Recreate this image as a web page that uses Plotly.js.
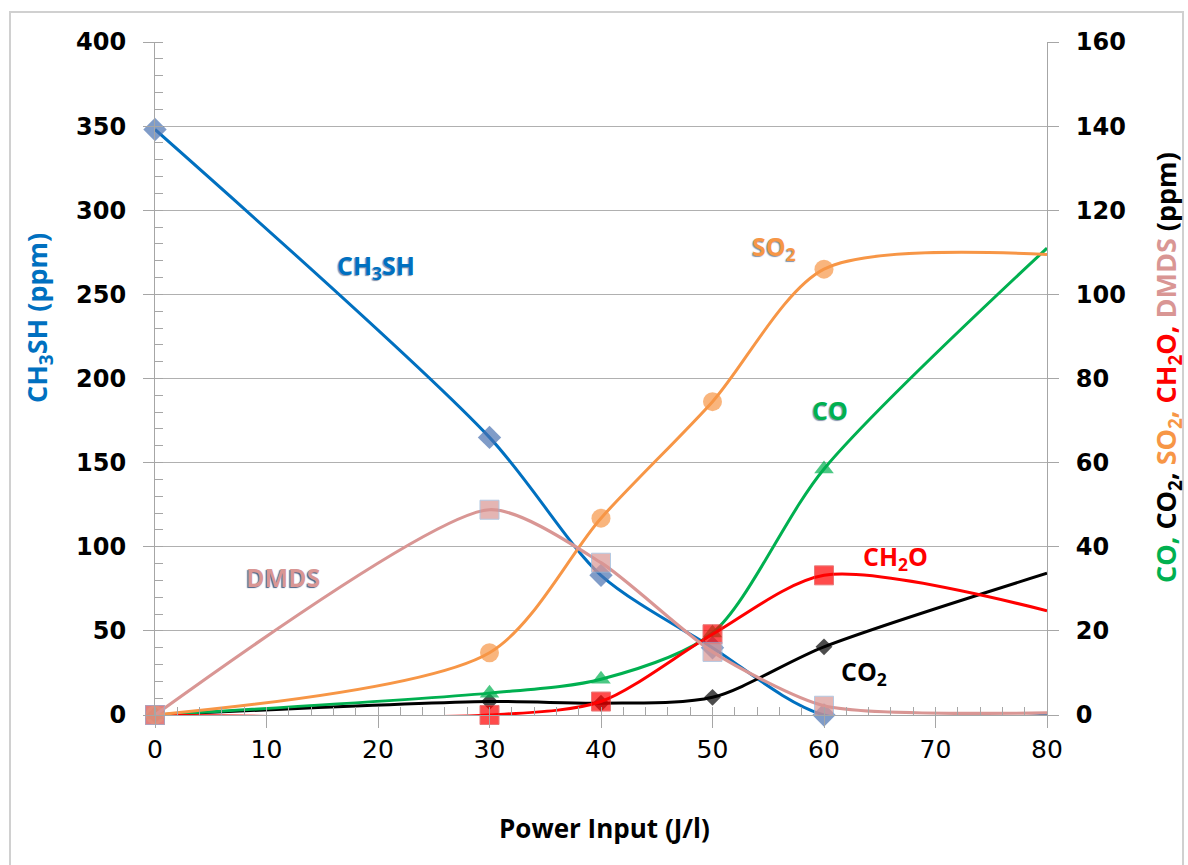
<!DOCTYPE html>
<html>
<head>
<meta charset="utf-8">
<script src="https://cdn.plot.ly/plotly-3.0.1.min.js"></script>
<style>
html,body{margin:0;padding:0;background:#fff;}
#chart{width:1188px;height:865px;}
</style>
</head>
<body>
<div id="chart"></div>
<script>
// Power input (J/l)
const powerInput = [0, 30, 40, 50, 60, 80];
// Left axis (ppm)
const ch3sh = [348, 165, 83, 40, 0, 0];
// Right axis (ppm)
const so2  = [0, 14.8, 46.8, 74.5, 106, 109.5];
const co   = [0, 5.2, 8.5, 19.5, 58.5, 111];
const co2  = [0, 3.2, 2.8, 4.2, 16.2, 33.7];
const ch2o = [0, 0, 3.2, 19.2, 33.2, 24.8];
const dmds = [0, 48.8, 36.2, 15.0, 2.2, 0.5];

const xTicks = [0, 10, 20, 30, 40, 50, 60, 70, 80];

function msize(s){ return powerInput.map(v => v === 80 ? 0 : s); }

function tr(name, y, yaxis, color, symbol, size, mcolor, mline, width, smooth){
  return {
    x: powerInput, y: y, yaxis: yaxis, name: name, type: 'scatter', mode: 'lines+markers',
    line: {color: color, width: width || 3, shape: 'spline', smoothing: smooth || 0.8},
    marker: {symbol: symbol, size: msize(size), color: mcolor || color,
             line: mline || {width: 0}},
    cliponaxis: false, showlegend: false, hoverinfo: 'x+y'
  };
}

const traces = [
  tr('CH3SH', ch3sh, 'y', '#0070c0', 'diamond', 18, '#4a72b0'),
  tr('CO2', co2, 'y2', '#000000', 'diamond', 13),
  tr('CO', co, 'y2', '#00b050', 'triangle-up', 17),
  tr('CH2O', ch2o, 'y2', '#ff0000', 'square', 19, '#ff0000', {width: 1, color: '#e04040'}),
  tr('SO2', so2, 'y2', '#f79646', 'circle', 19),
  tr('DMDS', dmds, 'y2', '#d99694', 'square', 19, '#d99694', {width: 1, color: '#95b3d7'}, 3.2, 0.65)
];

const W = 892, H = 673, L = 155, T = 42;
function px(x){ return (x - L) / W; }
function py(y){ return (T + H - y) / H; }

const FONT = '"Open Sans", "Noto Sans", sans-serif';
const lab = (text, x, y, color, size, shadow) => ({
  text: '<b>' + text + '</b>', xref: 'paper', yref: 'paper', x: px(x), y: py(y),
  xanchor: 'center', yanchor: 'middle', showarrow: false,
  font: {family: FONT, size: size || 25, color: color, shadow: shadow || 'none'}
});
const SH = '-1px 1px 1px rgba(31,56,100,0.55)';

const annotations = [
  lab('CH<sub>3</sub>SH', 376, 266, '#0070c0', 25, SH),
  lab('SO<sub>2</sub>', 774, 247, '#f79646', 25, SH),
  lab('CO', 830, 410, '#00b050', 25, SH),
  lab('CH<sub>2</sub>O', 895, 557, '#ff0000', 25),
  lab('CO<sub>2</sub>', 864, 672, '#000000', 25),
  lab('DMDS', 283, 577, '#d99694', 25, '-1px 1px 1px rgba(31,56,100,0.8)'),
  Object.assign(lab('CH<sub>3</sub>SH (ppm)', 38, 318, '#0070c0', 27), {textangle: -90}),
  Object.assign(lab('<span style="color:#00b050">CO,</span> CO<sub>2</sub>, <span style="color:#f79646">SO<sub>2</sub>,</span> <span style="color:#ff0000">CH<sub>2</sub>O,</span> <span style="color:#d99694">DMDS</span> (ppm)', 1167, 368, '#000000', 27), {textangle: -90}),
  lab('Power Input (J/l)', 604, 828, '#000000', 26)
];

const axisGray = '#a6a6a6';

const layout = {
  width: 1188, height: 865,
  margin: {l: L, r: 1188 - L - W, t: T, b: 865 - T - H, pad: 0},
  paper_bgcolor: '#ffffff', plot_bgcolor: '#ffffff',
  showlegend: false,
  xaxis: {
    range: [0, 80], tickvals: xTicks, ticktext: xTicks.map(String),
    ticks: 'outside', ticklen: 12, tickcolor: axisGray, tickwidth: 1,
    showline: true, linecolor: axisGray, linewidth: 1,
    showgrid: false, zeroline: false,
    minor: {dtick: 2, ticks: 'inside', ticklen: 8, tickcolor: axisGray, showgrid: false},
    tickfont: {family: '"DejaVu Sans", sans-serif', size: 25, color: '#000'},
    fixedrange: true
  },
  yaxis: {
    range: [0, 400], dtick: 50, tick0: 0,
    ticks: 'outside', ticklen: 11, tickcolor: axisGray,
    showline: true, linecolor: axisGray, linewidth: 1,
    showgrid: true, gridcolor: '#b0b0b0', gridwidth: 1, zeroline: false,
    minor: {dtick: 10, ticks: 'inside', ticklen: 8, tickcolor: axisGray, showgrid: false},
    tickfont: {family: '"DejaVu Sans", sans-serif', size: 24, color: '#000', weight: 'bold'},
    ticklabelstandoff: 12,
    fixedrange: true
  },
  yaxis2: {
    overlaying: 'y', side: 'right', range: [0, 160], dtick: 20, tick0: 0,
    ticks: 'outside', ticklen: 11, tickcolor: axisGray,
    showline: true, linecolor: axisGray, linewidth: 1,
    showgrid: false, zeroline: false,
    tickfont: {family: '"DejaVu Sans", Verdana, sans-serif', size: 24, color: '#000', weight: 'bold'},
    ticklabelstandoff: 12,
    fixedrange: true
  },
  annotations: annotations,
  shapes: [{
    type: 'rect', xref: 'paper', yref: 'paper', layer: 'below',
    x0: px(10), x1: px(1183), y0: py(875), y1: py(12),
    line: {color: '#d0d0d0', width: 2}, fillcolor: 'rgba(0,0,0,0)'
  }]
};

Plotly.newPlot('chart', traces, layout, {displayModeBar: false, staticPlot: true});
</script>
</body>
</html>
